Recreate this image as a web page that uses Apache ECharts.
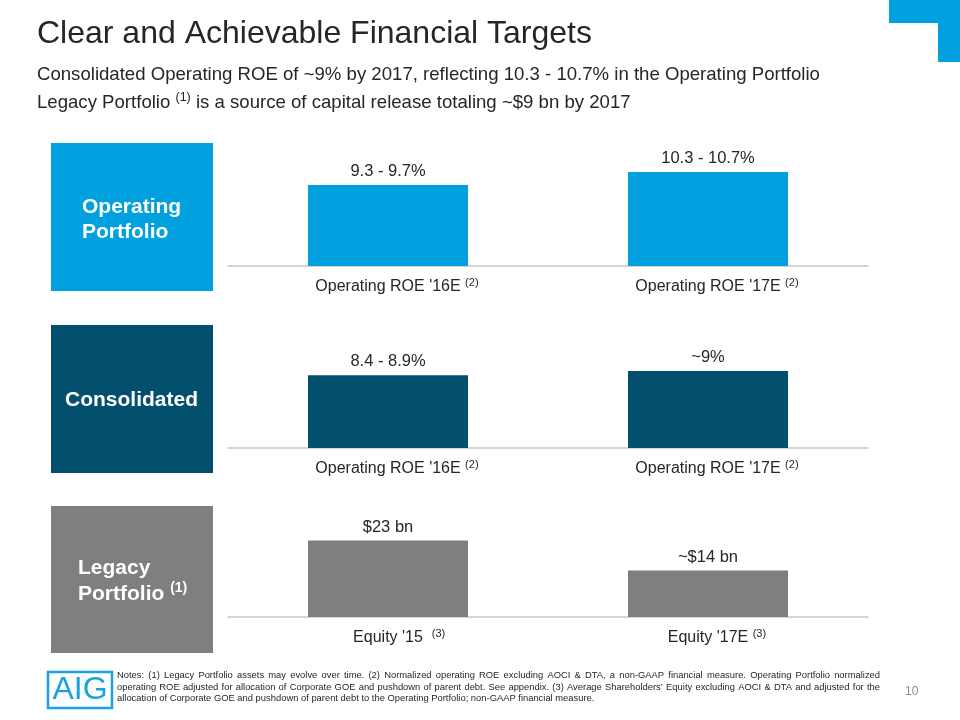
<!DOCTYPE html>
<html><head><meta charset="utf-8">
<script src="https://cdn.jsdelivr.net/npm/echarts@6/dist/echarts.min.js"></script>
<style>html,body{margin:0;padding:0;background:#fff}#c{width:960px;height:720px}</style>
</head><body><div id="c"></div>
<script>
// ---- data ----
const opCategories = ["Operating ROE '16E ", "Operating ROE '17E "];
const opSup = ['(2)', '(2)'];
const opValues = [9.5, 10.5];            // midpoints of ranges
const opLabels = ['9.3 - 9.7%', '10.3 - 10.7%'];

const conCategories = ["Operating ROE '16E ", "Operating ROE '17E "];
const conSup = ['(2)', '(2)'];
const conValues = [8.65, 9.0];
const conLabels = ['8.4 - 8.9%', '~9%'];

const legCategories = ["Equity '15  ", "Equity '17E "];
const legSup = ['(3)', '(3)'];
const legValues = [23, 14];
const legLabels = ['$23 bn', '~$14 bn'];

const noteLines = [
  'Notes: (1) Legacy Portfolio assets may evolve over time. (2) Normalized operating ROE excluding AOCI & DTA, a non-GAAP financial measure. Operating Portfolio normalized',
  'operating ROE adjusted for allocation of Corporate GOE and pushdown of parent debt.  See appendix. (3) Average Shareholders\u2019 Equity excluding AOCI & DTA and adjusted for the',
  'allocation of Corporate GOE and pushdown of parent debt to the Operating Portfolio; non-GAAP financial measure.'
];

const FONT = '"Liberation Sans", Arial, sans-serif';
const C_BLUE = '#00A1DE', C_TEAL = '#03506E', C_GRAY = '#7F7F7F', TXT = '#262626';

const panels = [
  {cats: opCategories, sup: opSup, vals: opValues, labels: opLabels, color: C_BLUE, top: 143, h: 123, min: 3.27, max: 12.73},
  {cats: conCategories, sup: conSup, vals: conValues, labels: conLabels, color: C_TEAL, top: 325, h: 123, min: 2.74, max: 12.74},
  {cats: legCategories, sup: legSup, vals: legValues, labels: legLabels, color: C_GRAY, top: 506, h: 111, min: 0, max: 33.4}
];

const grid = [], xAxis = [], yAxis = [], series = [];
panels.forEach((p, i) => {
  grid.push({left: 228, width: 640, top: p.top, height: p.h});
  xAxis.push({
    type: 'category', gridIndex: i, data: p.cats,
    axisTick: {show: false},
    axisLine: {lineStyle: {color: '#C8C8C8', width: 1.5}},
    axisLabel: {
      margin: 11,
      formatter: (v, idx) => {
        const core = v.replace(/\s+$/, '');
        const trail = v.slice(core.length);
        return '{hs|' + p.sup[idx] + '}{ha|' + trail + '}{a|' + core + trail + '}{s|' + p.sup[idx] + '}';
      },
      rich: {
        a: {fontFamily: FONT, fontSize: 16, color: TXT, lineHeight: 20},
        ha: {fontFamily: FONT, fontSize: 16, color: 'rgba(0,0,0,0)', lineHeight: 20},
        s: {fontFamily: FONT, fontSize: 11, color: TXT, verticalAlign: 'top', lineHeight: 20, padding: [0, 0, 6, 0]},
        hs: {fontFamily: FONT, fontSize: 11, color: 'rgba(0,0,0,0)', verticalAlign: 'top', lineHeight: 20, padding: [0, 0, 6, 0]}
      }
    }
  });
  yAxis.push({type: 'value', gridIndex: i, min: p.min, max: p.max, show: false, splitLine: {show: false}});
  series.push({
    type: 'bar', xAxisIndex: i, yAxisIndex: i, data: p.vals, barWidth: 160,
    itemStyle: {color: p.color},
    label: {
      show: true, position: 'top', distance: 5,
      fontFamily: FONT, fontSize: 16.5, color: TXT,
      formatter: (prm) => p.labels[prm.dataIndex]
    },
    animation: false
  });
});

const graphic = [
  {type: 'polygon', shape: {points: [[889,0],[960,0],[960,62],[938,62],[938,23],[889,23]]}, style: {fill: C_BLUE}},
  {type: 'text', left: 37, top: 18, style: {text: 'Clear and Achievable Financial Targets', font: '32px ' + FONT, fill: '#262626'}},
  {type: 'text', left: 37, top: 65, style: {text: 'Consolidated Operating ROE of ~9% by 2017, reflecting 10.3 - 10.7% in the Operating Portfolio', font: '18.6px ' + FONT, fill: '#262626'}},
  {type: 'text', left: 37, top: 91, style: {
    text: '{a|Legacy Portfolio }{s|(1)}{a| is a source of capital release totaling ~$9 bn by 2017}',
    rich: {
      a: {fontFamily: FONT, fontSize: 18.6, fill: '#262626', lineHeight: 24},
      s: {fontFamily: FONT, fontSize: 12.5, fill: '#262626', verticalAlign: 'top', lineHeight: 24, padding: [0, 0, 6, 0]}
    }
  }},
  {type: 'rect', shape: {x: 51, y: 143, width: 162, height: 148}, style: {fill: C_BLUE}},
  {type: 'rect', shape: {x: 51, y: 325, width: 162, height: 148}, style: {fill: C_TEAL}},
  {type: 'rect', shape: {x: 51, y: 506, width: 162, height: 147}, style: {fill: C_GRAY}},
  {type: 'text', left: 82, top: 195, style: {text: 'Operating\nPortfolio', font: 'bold 21px ' + FONT, fill: '#fff', lineHeight: 25}},
  {type: 'text', left: 65, top: 390, style: {text: 'Consolidated', font: 'bold 21px ' + FONT, fill: '#fff'}},
  {type: 'text', left: 78, top: 558, style: {
    text: '{b|Legacy}\n{b|Portfolio }{s|(1)}',
    rich: {
      b: {fontFamily: FONT, fontSize: 21, fontWeight: 'bold', fill: '#fff', lineHeight: 26},
      s: {fontFamily: FONT, fontSize: 14, fontWeight: 'bold', fill: '#fff', verticalAlign: 'top', lineHeight: 26, padding: [0, 0, 6, 0]}
    }
  }},
  {type: 'rect', shape: {x: 48, y: 672, width: 64, height: 36}, style: {fill: 'none', stroke: '#1BA3DB', lineWidth: 2.5}},
  {type: 'text', x: 80, y: 690, style: {text: 'AIG', font: '32px ' + FONT, fill: '#1BA3DB', textAlign: 'center', textVerticalAlign: 'middle'}},
  {type: 'text', left: 905, top: 686, style: {text: '10', font: '12px ' + FONT, fill: '#8C8C8C'}}
];

const NOTE_FONT = '9.4px ' + FONT;
const mctx = document.createElement('canvas').getContext('2d');
mctx.font = NOTE_FONT;
const NOTE_L = 117, NOTE_R = 880, NOTE_TOPS = [671, 682.5, 694];
noteLines.forEach((line, li) => {
  if (li === noteLines.length - 1) {
    graphic.push({type: 'text', x: NOTE_L, y: NOTE_TOPS[li], style: {text: line, font: NOTE_FONT, fill: TXT, textVerticalAlign: 'top'}});
    return;
  }
  const words = line.split(/ +/);
  const widths = words.map(w => mctx.measureText(w).width);
  const total = widths.reduce((a, b) => a + b, 0);
  const gap = (NOTE_R - NOTE_L - total) / (words.length - 1);
  let x = NOTE_L;
  words.forEach((w, wi) => {
    graphic.push({type: 'text', x: x, y: NOTE_TOPS[li], style: {text: w, font: NOTE_FONT, fill: TXT, textVerticalAlign: 'top'}});
    x += widths[wi] + gap;
  });
});

const chart = echarts.init(document.getElementById('c'), null, {renderer: 'canvas'});
chart.setOption({animation: false, backgroundColor: '#fff', grid, xAxis, yAxis, series, graphic});
</script></body></html>
